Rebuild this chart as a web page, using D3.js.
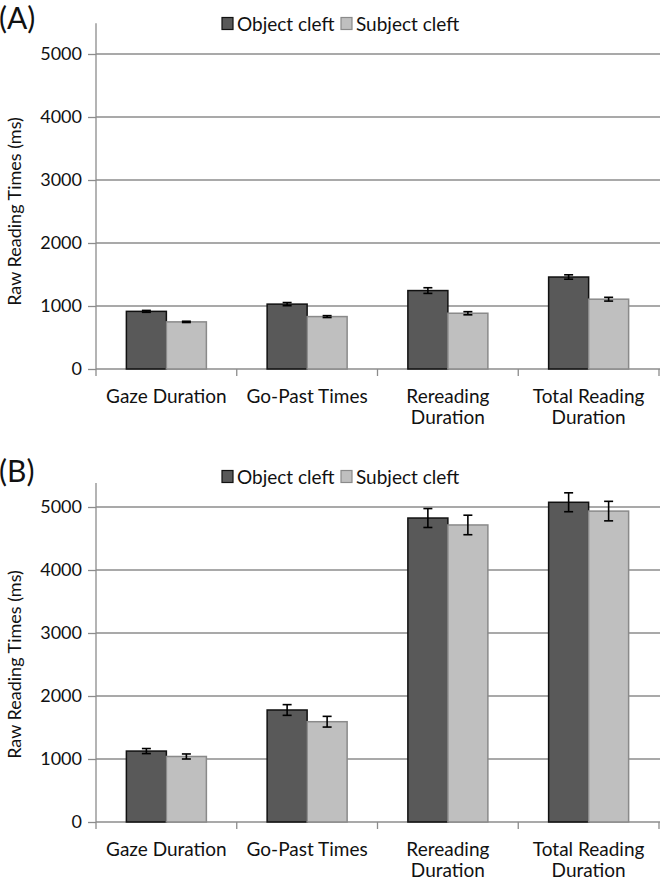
<!DOCTYPE html>
<html><head><meta charset="utf-8">
<script src="https://cdn.jsdelivr.net/npm/d3@7"></script>
<style>
html,body{margin:0;padding:0;background:#fff;}
svg text{font-family:Lato,"Open Sans",sans-serif;fill:#111;}
</style></head>
<body>
<svg id="chart" width="664" height="883"></svg>
<script>
const categories = [["Gaze Duration"],["Go-Past Times"],["Rereading","Duration"],["Total Reading","Duration"]];
const seriesNames = ["Object cleft","Subject cleft"];
const yTicks = [0,1000,2000,3000,4000,5000];

const panelA_object = [915, 1030, 1245, 1460];
const panelA_subject = [748, 832, 885, 1108];
const panelA_objectErr = [15, 25, 45, 35];
const panelA_subjectErr = [10, 15, 25, 30];

const panelB_object = [1126, 1778, 4825, 5075];
const panelB_subject = [1040, 1592, 4715, 4935];
const panelB_objectErr = [40, 85, 150, 150];
const panelB_subjectErr = [40, 85, 155, 155];

const fills = ["#595959","#bfbfbf"];
const strokes = ["#111","#8a8a8a"];

const svg = d3.select("#chart");

function drawPanel(label, obj, subj, objErr, subjErr, top, axisTopVal) {
  const g = svg.append("g").attr("transform", `translate(0,${top})`);
  const x0 = d3.scaleBand().domain(d3.range(categories.length)).range([96, 659]).padding(0);
  const x1 = d3.scaleBand().domain([0,1]).range([0, 80]);
  const y = d3.scaleLinear().domain([0, 5000]).range([369, 54]);

  // panel label
  g.append("text").attr("x", -1).attr("y", 29).style("font-size","30px").text(label);

  // gridlines
  g.append("g").selectAll("line").data(yTicks.filter(d=>d>0)).join("line")
    .attr("x1", 96).attr("x2", 660).attr("y1", d=>y(d)).attr("y2", d=>y(d))
    .attr("stroke","#8c8c8c").attr("stroke-width",1.3);

  // y axis
  const ya = g.append("g").attr("transform","translate(96,0)")
    .call(d3.axisLeft(y).tickValues(yTicks).tickSize(8).tickPadding(6).tickFormat(d3.format("d")));
  ya.select(".domain").remove();
  ya.append("line").attr("x1",0).attr("x2",0).attr("y1",y(axisTopVal)).attr("y2",y(0))
    .attr("stroke","#8c8c8c").attr("stroke-width",1.3);
  ya.selectAll(".tick line").attr("stroke","#8c8c8c").attr("stroke-width",1.3);
  ya.selectAll("text").style("font-size","18px").attr("fill","#111").style("font-family","Lato, sans-serif");

  // x axis
  const xa = g.append("g").attr("transform",`translate(0,${y(0)})`);
  xa.append("line").attr("x1",96).attr("x2",660).attr("stroke","#8c8c8c").attr("stroke-width",1.3);
  xa.selectAll("line.t").data(d3.range(categories.length+1)).join("line").attr("class","t")
    .attr("x1", i => i < categories.length ? x0(i) : x0(categories.length-1)+x0.bandwidth())
    .attr("x2", i => i < categories.length ? x0(i) : x0(categories.length-1)+x0.bandwidth())
    .attr("y1",0).attr("y2",7).attr("stroke","#8c8c8c").attr("stroke-width",1.3);
  xa.selectAll("text").data(categories).join("text")
    .attr("text-anchor","middle")
    .style("font-size","19px")
    .each(function(lines,i){
      const t = d3.select(this);
      lines.forEach((ln,k)=>{
        t.append("tspan").attr("x", x0(i)+x0.bandwidth()/2).attr("y", 34 + k*21).text(ln);
      });
    });

  // bars
  const data = [obj, subj], errs = [objErr, subjErr];
  const groupOffset = (x0.bandwidth() - 80)/2;
  [0,1].forEach(s=>{
    g.append("g").selectAll("rect").data(data[s]).join("rect")
      .attr("x",(d,i)=>x0(i)+groupOffset+x1(s))
      .attr("y",d=>y(d))
      .attr("width",x1.bandwidth())
      .attr("height",d=>y(0)-y(d))
      .attr("fill",fills[s]).attr("stroke",strokes[s]).attr("stroke-width",1.5);
  });
  // error bars
  [0,1].forEach(s=>{
    const eg = g.append("g");
    data[s].forEach((d,i)=>{
      const cx = x0(i)+groupOffset+x1(s)+x1.bandwidth()/2;
      const e = errs[s][i];
      eg.append("line").attr("x1",cx).attr("x2",cx).attr("y1",y(d+e)).attr("y2",y(d-e)).attr("stroke","#000").attr("stroke-width",1.6);
      [d+e,d-e].forEach(v=>{
        eg.append("line").attr("x1",cx-4.5).attr("x2",cx+4.5).attr("y1",y(v)).attr("y2",y(v)).attr("stroke","#000").attr("stroke-width",1.6);
      });
    });
  });

  // y axis title
  g.append("text").attr("transform",`translate(21,${(y(0)+y(5000))/2}) rotate(-90)`)
    .attr("text-anchor","middle").style("font-size","18px").text("Raw Reading Times (ms)");

  // legend
  const lg = g.append("g");
  const legendX = [222, 341];
  seriesNames.forEach((n,s)=>{
    lg.append("rect").attr("x",legendX[s]).attr("y",17.5).attr("width",11).attr("height",12)
      .attr("fill",fills[s]).attr("stroke",strokes[s]).attr("stroke-width",1.2);
    lg.append("text").attr("x",legendX[s]+15).attr("y",31).style("font-size","19px").text(n);
  });
}

drawPanel("(A)", panelA_object, panelA_subject, panelA_objectErr, panelA_subjectErr, 0, 5490);
drawPanel("(B)", panelB_object, panelB_subject, panelB_objectErr, panelB_subjectErr, 453, 5380);
</script>
</body></html>
